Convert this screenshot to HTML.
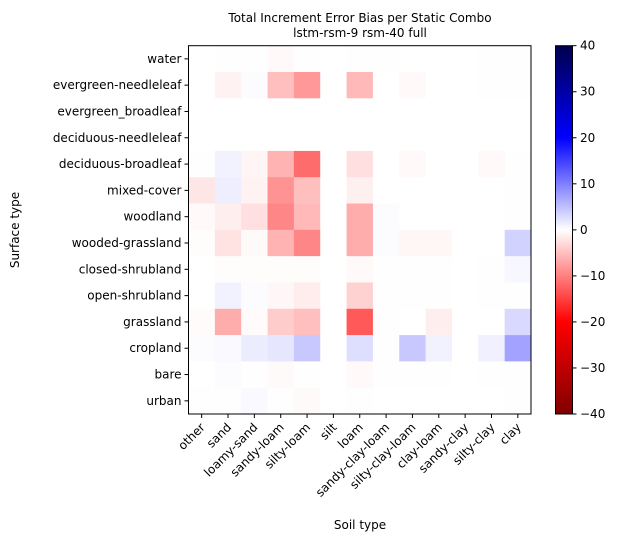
<!DOCTYPE html>
<html><head><meta charset="utf-8"><style>
body{margin:0;background:#fff;font-family:"Liberation Sans","DejaVu Sans",sans-serif;}
svg text{font-family:"DejaVu Sans","Liberation Sans",sans-serif;}
</style></head><body>
<svg id="chart" width="623" height="544" xmlns="http://www.w3.org/2000/svg">
<defs>
<linearGradient id="cb" x1="0" y1="1" x2="0" y2="0">
<stop offset="0" stop-color="#800000"/><stop offset="0.25" stop-color="#ff0000"/>
<stop offset="0.5" stop-color="#ffffff"/><stop offset="0.75" stop-color="#0000ff"/>
<stop offset="1" stop-color="#00004d"/>
</linearGradient>
</defs>
<text x="360" y="22" font-size="12" text-anchor="middle">Total Increment Error Bias per Static Combo</text>
<text x="360" y="37" font-size="12" text-anchor="middle">lstm-rsm-9 rsm-40 full</text>
<g id="cells"></g>
<rect x="188.5" y="45.7" width="342.5" height="368.3" fill="none" stroke="#000" stroke-width="1"/>
<g id="xticks"></g>
<g id="yticks"></g>
<text x="360" y="529" font-size="12" text-anchor="middle">Soil type</text>
<text transform="translate(19,230) rotate(-90)" font-size="12" text-anchor="middle">Surface type</text>
<rect x="555.5" y="45.7" width="17" height="368.3" fill="url(#cb)" stroke="#000" stroke-width="1"/>
<g id="cbticks"></g>
</svg>
<script>
const soils=["other","sand","loamy-sand","sandy-loam","silty-loam","silt","loam","sandy-clay-loam","silty-clay-loam","clay-loam","sandy-clay","silty-clay","clay"];
const surfaces=["water","evergreen-needleleaf","evergreen_broadleaf","deciduous-needleleaf","deciduous-broadleaf","mixed-cover","woodland","wooded-grassland","closed-shrubland","open-shrubland","grassland","cropland","bare","urban"];
const cbTicks=[40,30,20,10,0,-10,-20,-30,-40];
const values=[
[0,-0.1,-0.1,-0.5,-0.1,0,-0.1,0.1,0,0,0,0.1,0.1],
[0,-1,0.2,-5,-8,0,-5.5,0,-0.5,0,0,-0.1,-0.1],
[0,0,0,0,0,0,0,0,0,0,0,0,0],
[0,0,0,0,0,0,0,0,0,0,0,0,0],
[-0.1,1,-0.8,-6,-11.5,0,-2.5,0,-0.5,0,0,-0.5,-0.1],
[-2,1.3,-1,-8.5,-5,0,-1.2,0,0,0,0,0,-0.1],
[-0.5,-1.3,-2.5,-9.5,-5.5,0,-6.5,0.2,0,0,0,0,-0.1],
[-0.2,-2.2,-0.4,-6,-9.5,0,-6.5,0.2,-0.7,-0.7,0,0,3.5],
[0,-0.2,-0.2,-0.2,-0.2,0,-0.5,0.1,0.1,0.1,0,0.1,0.6],
[0,1,0.2,-0.6,-1.5,0,-3.5,0.1,0.1,0.1,0,0.1,0.1],
[-0.3,-6.5,-0.3,-4,-5,0,-13,-0.1,0,-1.3,0,0,3],
[0.2,0.5,1.5,2,4.3,0,2.6,0.1,4.3,1,0,1.2,7.2],
[0,0.2,-0.1,-0.4,-0.1,0,-0.5,-0.1,-0.1,-0.1,0,-0.1,-0.1],
[0.1,0.1,0.5,0.1,-0.4,0,0.1,0,0,0,0,0,-0.1]
];
const X0=188.5,X1=531,Y0=45.7,Y1=414;
const cw=(X1-X0)/soils.length, ch=(Y1-Y0)/surfaces.length;
const xs=i=>X0+cw*i, ys=j=>Y0+ch*j;
const cbY=v=>Y0+(40-v)/80*(Y1-Y0);
function color(v){
  const t=Math.min(1,Math.abs(v)/20);
  const c=Math.round(255*(1-t));
  return v<0?`rgb(255,${c},${c})`:`rgb(${c},${c},255)`;
}
const NS="http://www.w3.org/2000/svg";
const cells=document.getElementById('cells');
values.forEach((row,j)=>row.forEach((v,i)=>{
  const r=document.createElementNS(NS,'rect');
  
  
  r.setAttribute('x',xs(i));r.setAttribute('y',ys(j));
  r.setAttribute('width',cw+0.3);r.setAttribute('height',ch+0.3);
  r.setAttribute('fill',color(v));
  cells.appendChild(r);
}));
const xt=document.getElementById('xticks');
soils.forEach((s,i)=>{
  const cx=xs(i)+cw/2;
  const l=document.createElementNS(NS,'line');
  
  
  l.setAttribute('x1',cx);l.setAttribute('x2',cx);l.setAttribute('y1',Y1);l.setAttribute('y2',Y1+4);l.setAttribute('stroke','#000');
  xt.appendChild(l);
  const t=document.createElementNS(NS,'text');
  
  
  t.setAttribute('font-size','12');t.setAttribute('text-anchor','end');
  t.setAttribute('transform',`translate(${cx+4},${Y1+14}) rotate(-45)`);
  t.textContent=s;xt.appendChild(t);
});
const yt=document.getElementById('yticks');
surfaces.forEach((s,j)=>{
  const cy=ys(j)+ch/2;
  const l=document.createElementNS(NS,'line');
  
  
  l.setAttribute('x1',X0-4);l.setAttribute('x2',X0);l.setAttribute('y1',cy);l.setAttribute('y2',cy);l.setAttribute('stroke','#000');
  yt.appendChild(l);
  const t=document.createElementNS(NS,'text');
  
  
  t.setAttribute('font-size','12');t.setAttribute('text-anchor','end');
  t.setAttribute('x',X0-7);t.setAttribute('y',cy+4);
  t.textContent=s;yt.appendChild(t);
});
const cbt=document.getElementById('cbticks');
cbTicks.forEach(v=>{
  const y=cbY(v);
  const l=document.createElementNS(NS,'line');
  
  
  l.setAttribute('x1',572.5);l.setAttribute('x2',576.5);l.setAttribute('y1',y);l.setAttribute('y2',y);l.setAttribute('stroke','#000');
  cbt.appendChild(l);
  const t=document.createElementNS(NS,'text');
  
  
  t.setAttribute('font-size','12');t.setAttribute('x',580);t.setAttribute('y',y+4);
  t.textContent=v<0?'\u2212'+Math.abs(v):String(v);cbt.appendChild(t);
});
</script>
</body></html>
